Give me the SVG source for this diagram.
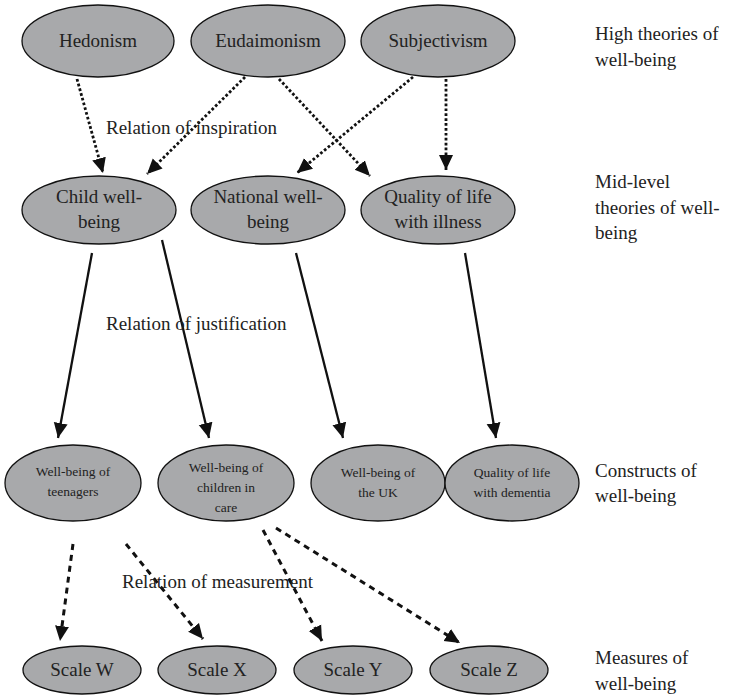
<svg xmlns="http://www.w3.org/2000/svg" width="729" height="695" viewBox="0 0 729 695" font-family="'Liberation Serif','Times New Roman','DejaVu Serif',serif">
<style>
.n{fill:#a8a9ab;stroke:#111;stroke-width:1.3}
.t{font-family:'Liberation Serif','Times New Roman','DejaVu Serif',serif;fill:#222;text-anchor:middle}
.big{font-size:19px}
.sm{font-size:13.5px}
.lab{font-family:'Liberation Serif','Times New Roman','DejaVu Serif',serif;fill:#222;font-size:19px}
.dot{stroke:#111;stroke-width:2.8;stroke-dasharray:2.7 2.2;fill:none}
.sol{stroke:#111;stroke-width:2.3;fill:none}
.dash{stroke:#111;stroke-width:3;stroke-dasharray:6 5;fill:none}
</style>
<defs>
<marker id="ah" markerUnits="userSpaceOnUse" markerWidth="16" markerHeight="16" viewBox="0 0 16 16" refX="15" refY="8" orient="auto">
<path d="M0,1 L15,8 L0,15 Z" fill="#111"/>
</marker>
</defs>
<g id="connectors">
<line class="dot" x1="77" y1="79" x2="103" y2="173" marker-end="url(#ah)"/>
<line class="dot" x1="245" y1="77" x2="147" y2="174" marker-end="url(#ah)"/>
<line class="dot" x1="279" y1="79" x2="370" y2="176" marker-end="url(#ah)"/>
<line class="dot" x1="413" y1="77" x2="297" y2="173" marker-end="url(#ah)"/>
<line class="dot" x1="446" y1="79" x2="446" y2="170" marker-end="url(#ah)"/>
<line class="sol" x1="92" y1="253" x2="58" y2="438" marker-end="url(#ah)"/>
<line class="sol" x1="162" y1="240" x2="209" y2="438" marker-end="url(#ah)"/>
<line class="sol" x1="296" y1="253" x2="343" y2="438" marker-end="url(#ah)"/>
<line class="sol" x1="465" y1="253" x2="496" y2="438" marker-end="url(#ah)"/>
<line class="dash" x1="73" y1="544" x2="60" y2="641" marker-end="url(#ah)"/>
<line class="dash" x1="126" y1="544" x2="203" y2="639" marker-end="url(#ah)"/>
<line class="dash" x1="263" y1="530" x2="322" y2="641" marker-end="url(#ah)"/>
<line class="dash" x1="276" y1="528" x2="460" y2="643" marker-end="url(#ah)"/>
<text class="lab" x="106" y="134">Relation of inspiration</text>
<text class="lab" x="106" y="330">Relation of justification</text>
<text class="lab" x="122" y="588">Relation of measurement</text>
</g>
<g id="hedonism"><ellipse class="n" cx="98" cy="41" rx="76" ry="36"/><text class="t big" x="98" y="47">Hedonism</text></g>
<g id="eudaimonism"><ellipse class="n" cx="268" cy="41" rx="77" ry="36"/><text class="t big" x="268" y="47">Eudaimonism</text></g>
<g id="subjectivism"><ellipse class="n" cx="438" cy="41" rx="77" ry="36"/><text class="t big" x="438" y="47">Subjectivism</text></g>
<g id="child"><ellipse class="n" cx="99" cy="210" rx="77" ry="34"/><text class="t big" x="99" y="203">Child well-</text><text class="t big" x="99" y="228">being</text></g>
<g id="national"><ellipse class="n" cx="268" cy="210" rx="77" ry="34"/><text class="t big" x="268" y="203">National well-</text><text class="t big" x="268" y="228">being</text></g>
<g id="qol"><ellipse class="n" cx="438" cy="210" rx="77" ry="34"/><text class="t big" x="438" y="203">Quality of life</text><text class="t big" x="438" y="228">with illness</text></g>
<g id="teenagers"><ellipse class="n" cx="73" cy="483" rx="68" ry="38"/><text class="t sm" x="73" y="476">Well-being of</text><text class="t sm" x="73" y="496">teenagers</text></g>
<g id="care"><ellipse class="n" cx="226" cy="483" rx="68" ry="38"/><text class="t sm" x="226" y="472">Well-being of</text><text class="t sm" x="226" y="492">children in</text><text class="t sm" x="226" y="512">care</text></g>
<g id="uk"><ellipse class="n" cx="378" cy="483" rx="67" ry="38"/><text class="t sm" x="378" y="477">Well-being of</text><text class="t sm" x="378" y="497">the UK</text></g>
<g id="dementia"><ellipse class="n" cx="512" cy="483" rx="67" ry="38"/><text class="t sm" x="512" y="477">Quality of life</text><text class="t sm" x="512" y="497">with dementia</text></g>
<g id="scaleW"><ellipse class="n" cx="82" cy="670" rx="59" ry="24"/><text class="t big" x="82" y="676">Scale W</text></g>
<g id="scaleX"><ellipse class="n" cx="217" cy="670" rx="59" ry="24"/><text class="t big" x="217" y="676">Scale X</text></g>
<g id="scaleY"><ellipse class="n" cx="353" cy="670" rx="59" ry="24"/><text class="t big" x="353" y="676">Scale Y</text></g>
<g id="scaleZ"><ellipse class="n" cx="489" cy="670" rx="59" ry="24"/><text class="t big" x="489" y="676">Scale Z</text></g>
<g id="levels">
<text class="lab" x="595" y="40">High theories of</text>
<text class="lab" x="595" y="66">well-being</text>
<text class="lab" x="595" y="188">Mid-level</text>
<text class="lab" x="595" y="214">theories of well-</text>
<text class="lab" x="595" y="239">being</text>
<text class="lab" x="595" y="477">Constructs of</text>
<text class="lab" x="595" y="502">well-being</text>
<text class="lab" x="595" y="664">Measures of</text>
<text class="lab" x="595" y="690">well-being</text>
</g>
</svg>
